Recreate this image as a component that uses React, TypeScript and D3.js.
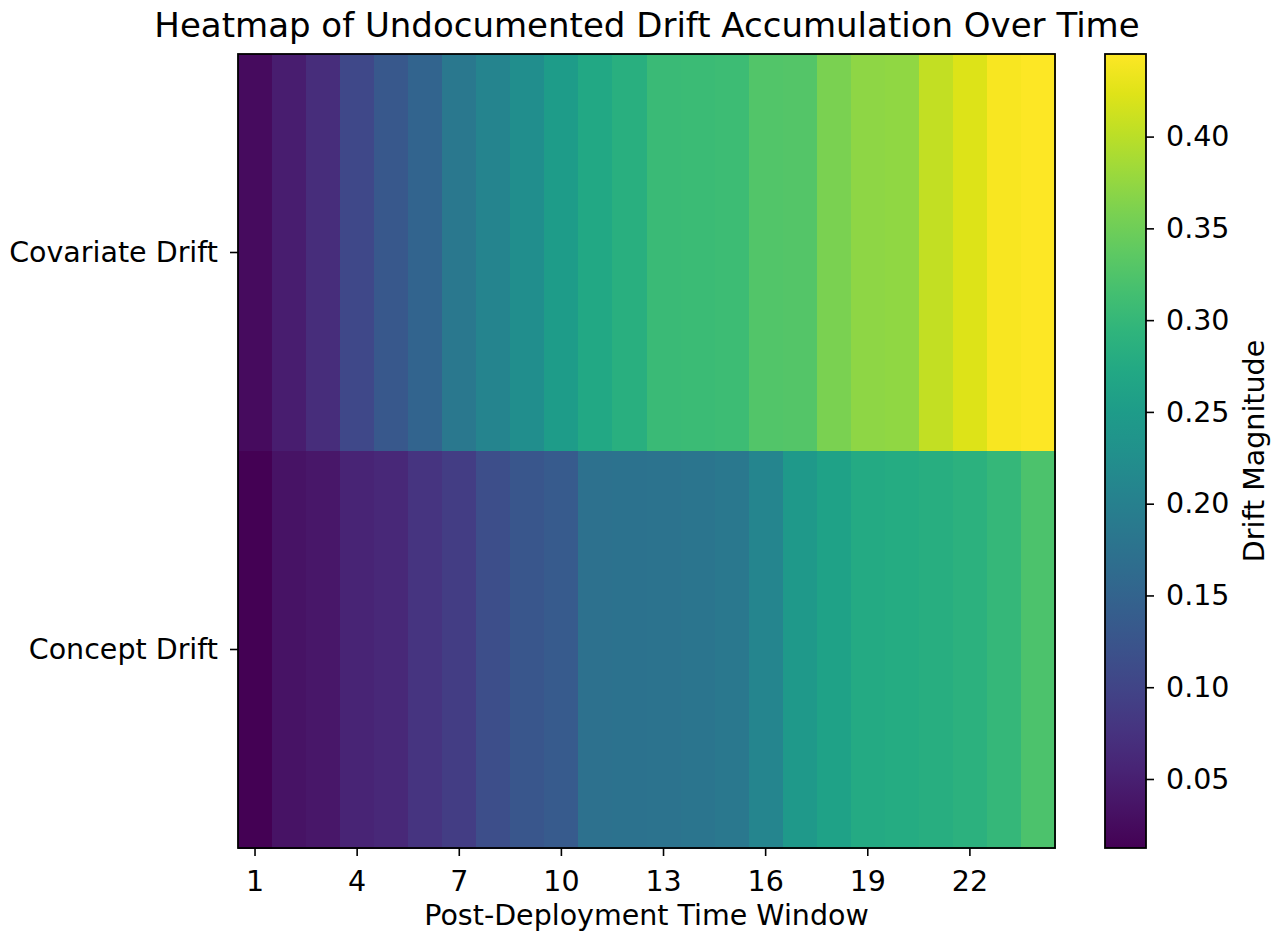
import React, { useEffect, useRef } from "react";
import * as d3 from "d3";

const rows = ["Covariate Drift", "Concept Drift"];
const windows = d3.range(1, 25);
const covariate = [
  0.025, 0.047, 0.068, 0.107, 0.13, 0.15, 0.185, 0.207, 0.224, 0.25, 0.272, 0.285,
  0.305, 0.307, 0.309, 0.328, 0.33, 0.358, 0.372, 0.374, 0.406, 0.423, 0.44, 0.445,
];
const concept = [
  0.0124, 0.034, 0.038, 0.055, 0.06, 0.077, 0.09, 0.115, 0.128, 0.135, 0.172, 0.175,
  0.178, 0.181, 0.186, 0.21, 0.245, 0.262, 0.276, 0.278, 0.284, 0.288, 0.3, 0.323,
];
const xTicks = [1, 4, 7, 10, 13, 16, 19, 22];
const cbTicks = [0.05, 0.1, 0.15, 0.2, 0.25, 0.3, 0.35, 0.4];

const App = () => {
  const ref = useRef<SVGSVGElement>(null);

  useEffect(() => {
    const width = 1279;
    const height = 940;
    const font = "DejaVu Sans, sans-serif";
    const fs = 28.5;
    const svg = d3.select(ref.current).attr("width", width).attr("height", height);
    svg.selectAll("*").remove();

    const left = 238, right = 1055, top = 54, bottom = 848;
    const series = [covariate, concept];
    const all = covariate.concat(concept);
    const vmin = d3.min(all)!;
    const vmax = d3.max(all)!;
    const color = d3.scaleSequential(d3.interpolateViridis).domain([vmin, vmax]);

    const x = d3.scaleBand().domain(windows.map(String)).range([left, right]).padding(0);
    const y = d3.scaleBand().domain(rows).range([top, bottom]).padding(0);

    const cells = rows.flatMap((r, ri) => series[ri].map((v, i) => ({ r, w: windows[i], v })));
    svg.append("g").selectAll("rect").data(cells).enter().append("rect")
      .attr("x", d => x(String(d.w))!)
      .attr("y", d => y(d.r)!)
      .attr("width", x.bandwidth() + 0.5)
      .attr("height", y.bandwidth() + 0.5)
      .attr("fill", d => color(d.v))
      .attr("shape-rendering", "crispEdges");

    svg.append("rect").attr("x", left).attr("y", top).attr("width", right - left).attr("height", bottom - top)
      .attr("fill", "none").attr("stroke", "#000").attr("stroke-width", 1.8);

    // x axis
    const xa = svg.append("g").attr("transform", `translate(0,${bottom})`)
      .call(d3.axisBottom(x).tickValues(xTicks.map(String)).tickSize(8).tickSizeOuter(0));
    xa.select(".domain").remove();
    xa.selectAll("line").attr("stroke", "#000").attr("stroke-width", 1.6);
    xa.selectAll("text").attr("font-size", fs).attr("font-family", font).attr("fill", "#000")
      .attr("y", 43).attr("dy", 0);

    // y axis
    const ya = svg.append("g").attr("transform", `translate(${left},0)`)
      .call(d3.axisLeft(y).tickSize(8).tickSizeOuter(0));
    ya.select(".domain").remove();
    ya.selectAll("line").attr("stroke", "#000").attr("stroke-width", 1.6);
    ya.selectAll("text").attr("font-size", fs).attr("font-family", font).attr("fill", "#000").attr("x", -20);

    svg.append("text").attr("x", (left + right) / 2).attr("y", 925).attr("text-anchor", "middle")
      .attr("font-size", fs).attr("font-family", font).text("Post-Deployment Time Window");

    svg.append("text").attr("x", 647).attr("y", 37).attr("text-anchor", "middle")
      .attr("font-size", 34).attr("font-family", font).text("Heatmap of Undocumented Drift Accumulation Over Time");

    // colorbar
    const cbL = 1105, cbW = 41;
    const defs = svg.append("defs");
    const grad = defs.append("linearGradient").attr("id", "cb").attr("x1", 0).attr("y1", 1).attr("x2", 0).attr("y2", 0);
    d3.range(0, 1.0001, 0.05).forEach(t => {
      grad.append("stop").attr("offset", t).attr("stop-color", d3.interpolateViridis(t));
    });
    svg.append("rect").attr("x", cbL).attr("y", top).attr("width", cbW).attr("height", bottom - top)
      .attr("fill", "url(#cb)").attr("stroke", "#000").attr("stroke-width", 1.8);
    const cy = d3.scaleLinear().domain([vmin, vmax]).range([bottom, top]);
    const ca = svg.append("g").attr("transform", `translate(${cbL + cbW},0)`)
      .call(d3.axisRight(cy).tickValues(cbTicks).tickFormat(d3.format(".2f")).tickSize(8).tickSizeOuter(0));
    ca.select(".domain").remove();
    ca.selectAll("line").attr("stroke", "#000").attr("stroke-width", 1.6);
    ca.selectAll("text").attr("font-size", fs).attr("font-family", font).attr("fill", "#000").attr("x", 20);

    svg.append("text").attr("transform", `translate(1264,451) rotate(-90)`).attr("text-anchor", "middle")
      .attr("font-size", fs).attr("font-family", font).text("Drift Magnitude");
  }, []);

  return <svg ref={ref} style={{ display: "block", margin: "-8px" }}></svg>;
};

export default App;
